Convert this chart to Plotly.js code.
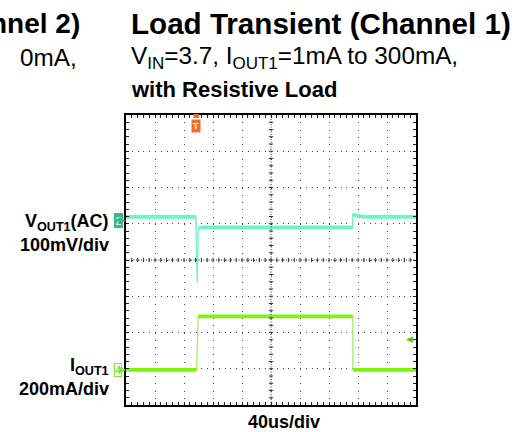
<!DOCTYPE html>
<html>
<head>
<meta charset="utf-8">
<script src="https://cdn.plot.ly/plotly-3.0.1.min.js"></script>
<style>
  html, body { margin: 0; padding: 0; background: #fff; }
  #chart { width: 532px; height: 432px; }
</style>
</head>
<body>
<div id="chart"></div>
<script>
// ---- data read from the scope capture ----
// time axis in microseconds (40 us/div, 10 divisions)
const timeVout = [0, 96.5, 96.8, 98.3, 99.5, 100.5, 104, 312.6, 312.9, 318, 330, 400];
// VOUT1 (AC coupled) in mV, 100 mV/div
const vout1 = [11, 11, -43, -171, -30, -20, -18, -18, 18, 14, 11, 11];
const timeIout = [0, 97.5, 99.5, 312.7, 313, 400];
// IOUT1 in mA, 200 mA/div
const iout1 = [1, 1, 296, 296, 1, 1];
const triggerTime = 97;      // us
const triggerLevel = 170;    // mA (channel 4 trigger level arrow)

const titleText = 'Load Transient (Channel 1)';
const subtitle1 = 'V<sub>IN</sub>=3.7, I<sub>OUT1</sub>=1mA to 300mA,';
const subtitle2 = 'with Resistive Load';
const leftTitleFrag = 'nnel 2)';
const leftSubFrag = '0mA,';
const ch2Label = 'V<sub>OUT1</sub>(AC)';
const ch2Scale = '100mV/div';
const ch4Label = 'I<sub>OUT1</sub>';
const ch4Scale = '200mA/div';
const timeScale = '40us/div';

// ---- scope settings ----
const xRange = [0, 400];
const xDiv = 40;                // us/div
const vDiv = 100;               // mV/div
const iDiv = 200;               // mA/div
const vRange = [-508, 292];     // mV over 8 divisions
const iRange = [-193, 1407];    // mA over 8 divisions

// ---- layout geometry (pixels) ----
const W = 532, H = 432;
const L = 126, R = 116, T = 115, B = 27;
const PW = W - L - R, PH = H - T - B;
const px = x => (x - L) / PW;        // page pixel -> paper x
const py = y => (H - B - y) / PH;    // page pixel -> paper y

const cyan = '#68f5c9';
const green = '#7ef40c';
const ch2Color = '#3fb48e';
const ch4Color = '#7ee830';
const trigColor = '#f26a2e';
const font = 'Liberation Sans, Arial, sans-serif';

// split waveform into flat (noisy, thick) parts
function bands(t, v, range) {
  const kx = PW / (xRange[1] - xRange[0]);
  const ky = PH / (range[1] - range[0]);
  const xs = [], ys = [];
  for (let i = 0; i < t.length - 1; i++) {
    const slope = Math.abs((v[i + 1] - v[i]) * ky) / Math.max(1e-6, (t[i + 1] - t[i]) * kx);
    if (slope < 2) { xs.push(t[i], t[i + 1], null); ys.push(v[i], v[i + 1], null); }
  }
  return { xs, ys };
}
const vb = bands(timeVout, vout1, vRange);
const ib = bands(timeIout, iout1, iRange);

const traces = [
  { x: timeVout, y: vout1, xaxis: 'x', yaxis: 'y', mode: 'lines', line: { color: cyan, width: 1.3 }, hoverinfo: 'skip', showlegend: false },
  { x: vb.xs, y: vb.ys, xaxis: 'x', yaxis: 'y', mode: 'lines', line: { color: cyan, width: 3.6 }, connectgaps: false, hoverinfo: 'skip', showlegend: false },
  { x: timeIout, y: iout1, xaxis: 'x', yaxis: 'y2', mode: 'lines', line: { color: '#9af56a', width: 1.3 }, hoverinfo: 'skip', showlegend: false },
  { x: ib.xs, y: ib.ys, xaxis: 'x', yaxis: 'y2', mode: 'lines', line: { color: green, width: 3.8 }, connectgaps: false, hoverinfo: 'skip', showlegend: false }
];

// centre cross-hair tick marks (decoration)
const shapes = [
  { type: 'line', xref: 'paper', yref: 'paper', x0: 0, x1: 1, y0: 0.5, y1: 0.5, line: { color: '#333', width: 1, dash: '1px,1.5px' } },
  { type: 'line', xref: 'paper', yref: 'paper', x0: 0.5, x1: 0.5, y0: 0, y1: 1, line: { color: '#333', width: 1, dash: '1px,1.5px' } },
  // trigger position tab on the top edge
  { type: 'rect', xref: 'x', yref: 'paper', x0: triggerTime - 4, x1: triggerTime + 4, y0: py(118), y1: py(114), fillcolor: trigColor, line: { width: 0 } }
];
const tickHalf = 2.2; // px
for (let k = 1; k < 50; k++) {
  const xp = k / 50;
  shapes.push({ type: 'line', xref: 'paper', yref: 'paper', x0: xp, x1: xp, y0: 0.5 - tickHalf / PH, y1: 0.5 + tickHalf / PH, line: { color: '#333', width: 1 } });
}
for (let k = 1; k < 40; k++) {
  const yp = k / 40;
  shapes.push({ type: 'line', xref: 'paper', yref: 'paper', y0: yp, y1: yp, x0: 0.5 - tickHalf / PW, x1: 0.5 + tickHalf / PW, line: { color: '#333', width: 1 } });
}

const layout = {
  width: W, height: H,
  margin: { l: L, r: R, t: T, b: B, pad: 0 },
  paper_bgcolor: '#fff', plot_bgcolor: '#fff',
  showlegend: false,
  font: { family: font, color: '#000' },
  xaxis: {
    range: xRange, dtick: xDiv, tick0: 0,
    showgrid: true, gridcolor: '#444', gridwidth: 1, griddash: '1px,6.25px',
    zeroline: false, showticklabels: false,
    showline: true, linecolor: '#000', linewidth: 2, mirror: 'ticks',
    ticks: 'inside', ticklen: 3, tickcolor: '#222',
    minor: { dtick: xDiv / 5, ticks: 'inside', ticklen: 3, tickcolor: '#222', showgrid: false },
    fixedrange: true
  },
  yaxis: {
    range: vRange, dtick: vDiv, tick0: vRange[0],
    showgrid: true, gridcolor: '#444', gridwidth: 1, griddash: '1px,4.8px',
    zeroline: false, showticklabels: false,
    showline: true, linecolor: '#000', linewidth: 2, mirror: 'ticks',
    ticks: 'inside', ticklen: 3, tickcolor: '#222',
    minor: { dtick: vDiv / 5, tick0: vRange[0], ticks: 'inside', ticklen: 3, tickcolor: '#222', showgrid: false },
    fixedrange: true
  },
  yaxis2: { overlaying: 'y', anchor: 'x', range: iRange, dtick: iDiv, visible: false, fixedrange: true },
  shapes: shapes,
  annotations: [
    { text: '<b>' + titleText + '</b>', xref: 'paper', yref: 'paper', x: px(129), y: py(23), xanchor: 'left', yanchor: 'middle', showarrow: false, font: { size: 29.6, family: font } },
    { text: '<b>' + leftTitleFrag + '</b>', xref: 'paper', yref: 'paper', x: px(82), y: py(23), xanchor: 'right', yanchor: 'middle', showarrow: false, font: { size: 28, family: font } },
    { text: subtitle1, xref: 'paper', yref: 'paper', x: px(129), y: py(57), xanchor: 'left', yanchor: 'middle', showarrow: false, font: { size: 24.3, family: font } },
    { text: leftSubFrag, xref: 'paper', yref: 'paper', x: px(79), y: py(57), xanchor: 'right', yanchor: 'middle', showarrow: false, font: { size: 24.3, family: font } },
    { text: '<b>' + subtitle2 + '</b>', xref: 'paper', yref: 'paper', x: px(129), y: py(89), xanchor: 'left', yanchor: 'middle', showarrow: false, font: { size: 22, family: font } },
    { text: '<b>' + ch2Label + '</b>', xref: 'paper', yref: 'paper', x: px(111), y: py(222), xanchor: 'right', yanchor: 'middle', showarrow: false, font: { size: 18, family: font } },
    { text: '<b>' + ch2Scale + '</b>', xref: 'paper', yref: 'paper', x: px(111), y: py(245), xanchor: 'right', yanchor: 'middle', showarrow: false, font: { size: 18, family: font } },
    { text: '<b>' + ch4Label + '</b>', xref: 'paper', yref: 'paper', x: px(111), y: py(366), xanchor: 'right', yanchor: 'middle', showarrow: false, font: { size: 18, family: font } },
    { text: '<b>' + ch4Scale + '</b>', xref: 'paper', yref: 'paper', x: px(111), y: py(389), xanchor: 'right', yanchor: 'middle', showarrow: false, font: { size: 18, family: font } },
    { text: '<b>' + timeScale + '</b>', xref: 'paper', yref: 'paper', x: px(284), y: py(422), xanchor: 'center', yanchor: 'middle', showarrow: false, font: { size: 18, family: font } },
    // channel 2 ground marker (points at the left edge)
    { text: '2', xref: 'paper', yref: 'y', x: 0, y: 0, showarrow: true, ax: -8, ay: 0, arrowhead: 2, arrowsize: 1, arrowwidth: 1.5, arrowcolor: ch2Color, standoff: 0,
      bgcolor: ch2Color, bordercolor: ch2Color, borderpad: 0.5, font: { size: 11, color: '#fff', family: font } },
    // channel 4 ground marker
    { text: '4', xref: 'paper', yref: 'y2', x: 0, y: 0, showarrow: true, ax: -8, ay: 0, arrowhead: 2, arrowsize: 1, arrowwidth: 1.5, arrowcolor: ch4Color, standoff: 0,
      bgcolor: '#fff', bordercolor: ch4Color, borderwidth: 1, borderpad: 0, font: { size: 11, color: '#6cd820', family: font } },
    // trigger level arrow
    { text: '◀', xref: 'paper', yref: 'y2', x: 1, y: triggerLevel, xanchor: 'right', yanchor: 'middle', xshift: -1, showarrow: false, font: { size: 9, color: '#55cc11', family: font } },
    // trigger position marker
    { text: '<b>T</b>', xref: 'x', yref: 'paper', x: triggerTime, y: py(134), showarrow: true, ax: 0, ay: -8, arrowhead: 2, arrowsize: 1, arrowwidth: 1.5, arrowcolor: trigColor, standoff: 0,
      bgcolor: trigColor, borderpad: 1, font: { size: 9, color: '#fff', family: font } }
  ]
};

Plotly.newPlot('chart', traces, layout, { staticPlot: true, displayModeBar: false });
</script>
</body>
</html>
